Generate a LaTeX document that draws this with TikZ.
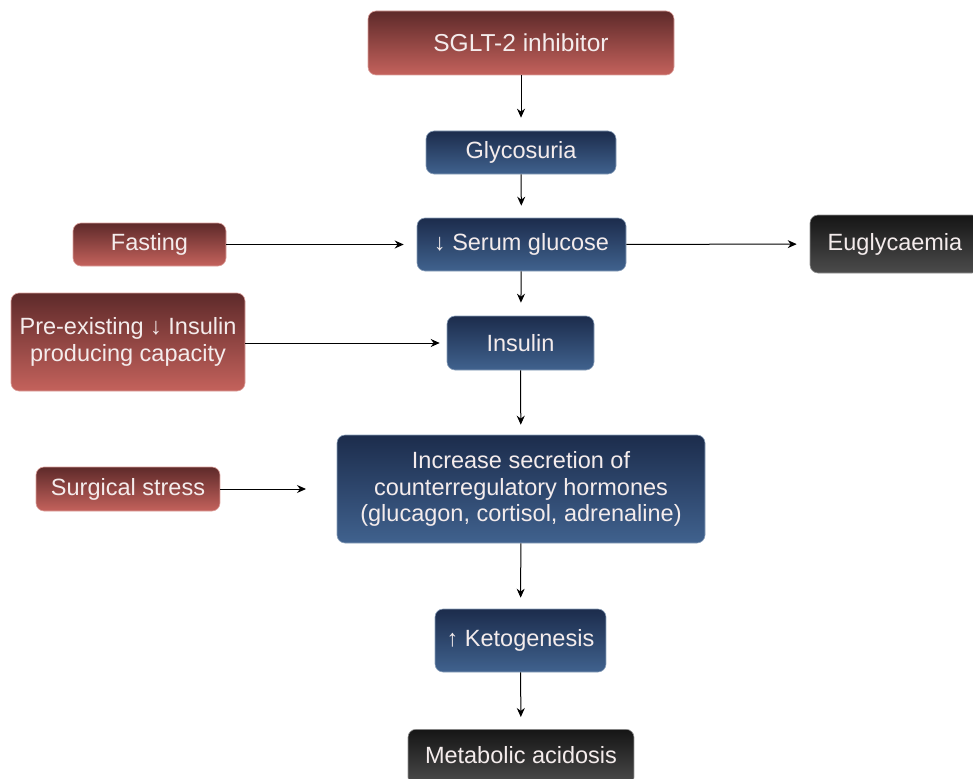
\documentclass[tikz,border=0pt]{standalone}
\usepackage{fontspec}
\setmainfont{Liberation Sans}
\usetikzlibrary{arrows.meta}
\definecolor{redtop}{HTML}{5E2A2A}
\definecolor{redbot}{HTML}{C4625C}
\definecolor{bluetop}{HTML}{1C2C4C}
\definecolor{bluebot}{HTML}{40628E}
\definecolor{blacktop}{HTML}{151515}
\definecolor{blackbot}{HTML}{4C4C4C}
\definecolor{txt}{HTML}{F4ECEC}
\tikzset{
  boxbase/.style={rounded corners=8pt, inner sep=0pt, align=center, text=txt,
    font=\fontsize{23.5}{27}\selectfont, line width=0.6pt},
  redbox/.style={boxbase, top color=redtop, bottom color=redbot, draw=redbot!60!white},
  bluebox/.style={boxbase, top color=bluetop, bottom color=bluebot, draw=bluebot!60!white},
  blackbox/.style={boxbase, top color=blacktop, bottom color=blackbot, draw=blackbot!60!white},
  arr/.style={-{Stealth[length=9pt,width=8pt]}, line width=1pt, black},
}
\begin{document}
\begin{tikzpicture}[x=1pt,y=-1pt]
\useasboundingbox (0,0) rectangle (973,778);
\node[redbox, minimum width=306pt, minimum height=64pt, font=\fontsize{24.5}{28}\selectfont] (sglt) at (521,43) {SGLT-2 inhibitor};
\node[bluebox, minimum width=190pt, minimum height=43pt] (gly) at (521,152.5) {Glycosuria};
\node[bluebox, minimum width=209pt, minimum height=53pt] (serum) at (521.5,244.5) {↓ Serum glucose};
\node[redbox, minimum width=153pt, minimum height=43pt] (fast) at (149.5,244.5) {Fasting};
\node[blackbox, minimum width=170pt, minimum height=58pt] (eug) at (895,244) {Euglycaemia};
\node[redbox, minimum width=234pt, minimum height=98pt] (pre) at (128,342) {Pre-existing ↓ Insulin\\producing capacity};
\node[bluebox, minimum width=147pt, minimum height=54pt] (ins) at (520.5,343) {Insulin};
\node[bluebox, minimum width=368pt, minimum height=108pt, font=\fontsize{23.5}{26.5}\selectfont] (cnt) at (521,489) {Increase secretion of\\counterregulatory hormones\\(glucagon, cortisol, adrenaline)};
\node[redbox, minimum width=184pt, minimum height=44pt] (surg) at (128,489) {Surgical stress};
\node[bluebox, minimum width=171pt, minimum height=63pt] (keto) at (520.5,640.5) {↑ Ketogenesis};
\node[blackbox, minimum width=226pt, minimum height=56pt, anchor=north] (met) at (521,729) {};
\node[text=txt, font=\fontsize{23.5}{27}\selectfont] (mett) at (521,755) {Metabolic acidosis};
\coordinate (surgend) at (306,489);
\draw[arr, shorten >=13pt] (sglt) -- (gly);
\draw[arr, shorten >=12pt] (gly) -- (serum);
\draw[arr, shorten >=13pt] (serum) -- (ins);
\draw[arr, shorten >=10pt] (ins) -- (cnt);
\draw[arr, shorten >=11pt] (cnt) -- (keto);
\draw[arr, shorten >=12pt] (keto) -- (met);
\draw[arr, shorten >=13pt] (fast) -- (serum);
\draw[arr, shorten >=13pt] (serum) -- (eug);
\draw[arr, shorten >=7pt] (pre.east |- ins) -- (ins);
\draw[arr] (surg) -- (surgend);
\end{tikzpicture}
\end{document}
